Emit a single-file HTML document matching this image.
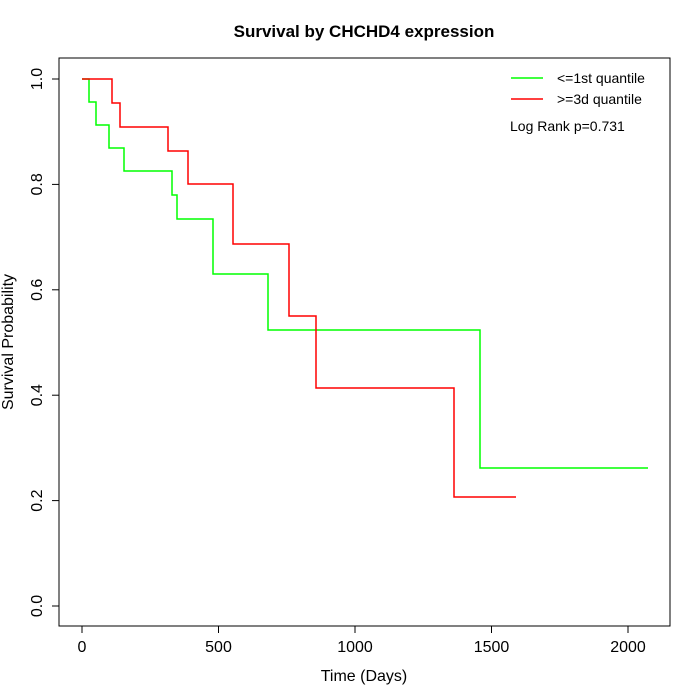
<!DOCTYPE html>
<html><head><style>body{margin:0;background:#fff}svg{display:block}text{font-family:"Liberation Sans",sans-serif}</style></head><body>
<svg width="700" height="700" xmlns="http://www.w3.org/2000/svg">
<rect width="700" height="700" fill="#fff"/>
<text x="364" y="37" font-size="17" font-weight="bold" text-anchor="middle">Survival by CHCHD4 expression</text>
<rect x="59" y="58" width="611" height="568" fill="none" stroke="#000" stroke-width="1"/>
<g stroke="#000" stroke-width="1">
<line x1="82" y1="626" x2="628" y2="626"/>
<line x1="82" y1="626" x2="82" y2="633"/><line x1="218.5" y1="626" x2="218.5" y2="633"/><line x1="355" y1="626" x2="355" y2="633"/><line x1="491.5" y1="626" x2="491.5" y2="633"/><line x1="628" y1="626" x2="628" y2="633"/>
<line x1="59" y1="79" x2="59" y2="606"/>
<line x1="59" y1="606" x2="52" y2="606"/><line x1="59" y1="500.6" x2="52" y2="500.6"/><line x1="59" y1="395.2" x2="52" y2="395.2"/><line x1="59" y1="289.8" x2="52" y2="289.8"/><line x1="59" y1="184.4" x2="52" y2="184.4"/><line x1="59" y1="79" x2="52" y2="79"/>
</g>
<g font-size="16" text-anchor="middle">
<text x="82" y="652">0</text><text x="218.5" y="652">500</text><text x="355" y="652">1000</text><text x="491.5" y="652">1500</text><text x="628" y="652">2000</text>
<text x="364" y="681">Time (Days)</text>
<g transform="translate(42,0)">
<text transform="translate(0,606) rotate(-90)">0.0</text>
<text transform="translate(0,500.6) rotate(-90)">0.2</text>
<text transform="translate(0,395.2) rotate(-90)">0.4</text>
<text transform="translate(0,289.8) rotate(-90)">0.6</text>
<text transform="translate(0,184.4) rotate(-90)">0.8</text>
<text transform="translate(0,79) rotate(-90)">1.0</text>
</g>
<text transform="translate(13,342) rotate(-90)">Survival Probability</text>
</g>
<polyline fill="none" stroke="#0f0" stroke-width="1.5" points="82,79 89,79 89,102 96,102 96,125 109,125 109,148 124,148 124,171 172,171 172,195 177,195 177,219 213,219 213,274 268,274 268,330 480,330 480,468 648,468"/>
<polyline fill="none" stroke="#f00" stroke-width="1.5" points="82,79 112,79 112,103 120,103 120,127 168,127 168,151 188,151 188,184 233,184 233,244 289,244 289,316 316,316 316,388 454,388 454,497 516,497"/>
<line x1="511" y1="78" x2="543" y2="78" stroke="#0f0" stroke-width="1.5"/>
<line x1="511" y1="99" x2="543" y2="99" stroke="#f00" stroke-width="1.5"/>
<g font-size="14">
<text x="557" y="83">&lt;=1st quantile</text>
<text x="557" y="104">&gt;=3d quantile</text>
<text x="510" y="131">Log Rank p=0.731</text>
</g>
</svg>
</body></html>
